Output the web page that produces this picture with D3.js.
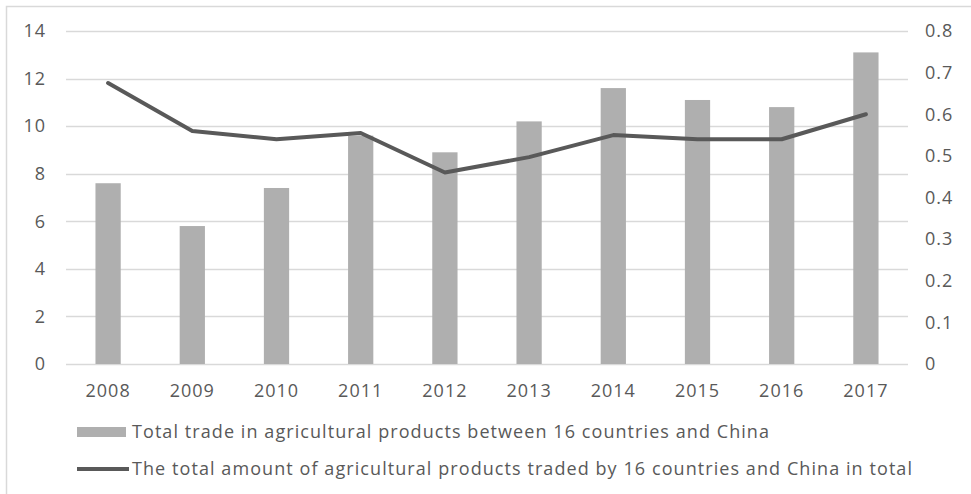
<!DOCTYPE html>
<html>
<head>
<meta charset="utf-8">
<script src="https://cdn.jsdelivr.net/npm/d3@7"></script>
<style>
  html, body { margin: 0; padding: 0; background: #ffffff; }
  svg { display: block; font-family: "Open Sans", "Noto Sans", sans-serif; }
</style>
</head>
<body>
<svg id="chart" width="971" height="494"></svg>
<script>
const years = ["2008","2009","2010","2011","2012","2013","2014","2015","2016","2017"];
const tradeValues = [7.6, 5.8, 7.4, 9.6, 8.9, 10.2, 11.6, 11.1, 10.8, 13.1];
const shareValues = [0.675, 0.56, 0.54, 0.555, 0.46, 0.497, 0.55, 0.54, 0.54, 0.60];
const leftTicks = [0, 2, 4, 6, 8, 10, 12, 14];
const rightTicks = [0, 0.1, 0.2, 0.3, 0.4, 0.5, 0.6, 0.7, 0.8];
const legendLabels = [
  "Total trade in agricultural products between 16 countries and China",
  "The total amount of agricultural products traded by 16 countries and China in total"
];

(function () {
const svg = d3.select("#chart");
const plotLeft = 66, plotRight = 908, plotTop = 31, plotBottom = 364;
const textColor = "#595959", gridColor = "#d9d9d9", barColor = "#afafaf", lineColor = "#595959";

// outer frame
svg.append("rect").attr("x", 6.5).attr("y", 6.5).attr("width", 1000).attr("height", 1000)
  .attr("fill", "none").attr("stroke", "#d9d9d9").attr("stroke-width", 1.5);

const x = d3.scaleBand().domain(years).range([plotLeft, plotRight]).paddingInner(0.7).paddingOuter(0.35);
const yL = d3.scaleLinear().domain([0, 14]).range([plotBottom, plotTop]);
const yR = d3.scaleLinear().domain([0, 0.8]).range([plotBottom, plotTop]);

// gridlines
svg.append("g").selectAll("line").data(leftTicks).join("line")
  .attr("x1", plotLeft).attr("x2", plotRight)
  .attr("y1", d => Math.round(yL(d)) + 0.5).attr("y2", d => Math.round(yL(d)) + 0.5)
  .attr("stroke", gridColor).attr("stroke-width", 1.5);

// bars
svg.append("g").selectAll("rect").data(tradeValues).join("rect")
  .attr("x", (d, i) => x(years[i]))
  .attr("width", x.bandwidth())
  .attr("y", d => yL(d))
  .attr("height", d => yL(0) - yL(d))
  .attr("fill", barColor);

// line
const line = d3.line()
  .x((d, i) => x(years[i]) + x.bandwidth() / 2)
  .y(d => yR(d));
svg.append("path").datum(shareValues)
  .attr("d", line)
  .attr("fill", "none").attr("stroke", lineColor).attr("stroke-width", 4)
  .attr("stroke-linejoin", "round").attr("stroke-linecap", "round");

function styleAxis(g) {
  g.select(".domain").remove();
  g.selectAll("text").attr("fill", textColor).style("font-size", "18px")
    .style("letter-spacing", "1px").style("font-family", "'Open Sans', sans-serif");
}

// left axis
svg.append("g").attr("transform", `translate(${plotLeft},0)`)
  .call(d3.axisLeft(yL).tickValues(leftTicks).tickSize(0).tickPadding(20).tickFormat(d3.format("d")))
  .call(styleAxis);

// right axis
svg.append("g").attr("transform", `translate(${plotRight},0)`)
  .call(d3.axisRight(yR).tickValues(rightTicks).tickSize(0).tickPadding(17)
    .tickFormat(d => d === 0 ? "0" : d3.format(".1f")(d)))
  .call(styleAxis);

// bottom axis
svg.append("g").attr("transform", `translate(0,${plotBottom})`)
  .call(d3.axisBottom(x).tickSize(0).tickPadding(20))
  .call(styleAxis);

// legend
const lg = svg.append("g");
lg.append("rect").attr("x", 77).attr("y", 427).attr("width", 49).attr("height", 10).attr("fill", barColor);
lg.append("line").attr("x1", 77).attr("x2", 129).attr("y1", 469).attr("y2", 469)
  .attr("stroke", lineColor).attr("stroke-width", 4);
const legendWidths = [637, 780];
lg.selectAll("text").data(legendLabels).join("text")
  .attr("x", 132).attr("y", (d, i) => i === 0 ? 438 : 475)
  .attr("fill", textColor).style("font-size", "18px")
  .attr("textLength", (d, i) => legendWidths[i]).attr("lengthAdjust", "spacing")
  .text(d => d);
})();
</script>
</body>
</html>
